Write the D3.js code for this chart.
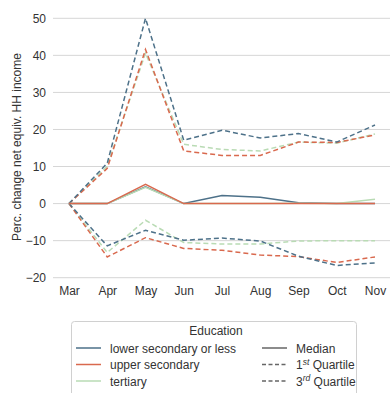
<!DOCTYPE html>
<html>
<head>
<meta charset="utf-8">
<script src="https://cdn.jsdelivr.net/npm/d3@7"></script>
<style>
  html, body { margin: 0; padding: 0; background: #fff; }
  svg { display: block; font-family: "Liberation Sans", Arial, sans-serif; }
</style>
</head>
<body>
<svg id="chart" width="390" height="393"></svg>
<script>
// Months on the x axis
const months = ["Mar", "Apr", "May", "Jun", "Jul", "Aug", "Sep", "Oct", "Nov"];
const yTicks = [-20, -10, 0, 10, 20, 30, 40, 50];

// Education groups
const groups = ["lower secondary or less", "upper secondary", "tertiary"];
const groupColors = ["#4d7189", "#d9694e", "#b9dbb4"];

// Percentage change of net equivalised household income, per group
const medianLower = [0, 0, 4.5, 0, 2.2, 1.7, 0.2, 0, 0];
const medianUpper = [0, 0, 5.2, 0, 0, 0, 0, 0, 0];
const medianTertiary = [0, 0, 4.4, 0, 0, 0, 0.1, 0, 1.2];

const q1Lower = [0, -11.4, -7.2, -9.9, -9.3, -10.1, -14.2, -16.7, -16.0];
const q1Upper = [0, -14.4, -9.2, -12.1, -12.6, -13.9, -14.3, -15.9, -14.4];
const q1Tertiary = [0, -13.2, -4.5, -10.5, -10.9, -10.9, -10.1, -10.0, -10.0];

const q3Lower = [0, 10.9, 50.0, 17.1, 19.8, 17.7, 18.9, 16.6, 21.2];
const q3Upper = [0, 9.5, 41.6, 14.2, 13.0, 13.0, 16.6, 16.5, 18.5];
const q3Tertiary = [0, 10.1, 40.6, 16.0, 14.6, 14.2, 16.6, 16.3, 18.8];

// Drawing order: lighter series underneath
const series = [
  { group: 2, stat: "q3", values: q3Tertiary },
  { group: 1, stat: "q3", values: q3Upper },
  { group: 0, stat: "q3", values: q3Lower },
  { group: 2, stat: "q1", values: q1Tertiary },
  { group: 1, stat: "q1", values: q1Upper },
  { group: 0, stat: "q1", values: q1Lower },
  { group: 0, stat: "median", values: medianLower },
  { group: 2, stat: "median", values: medianTertiary },
  { group: 1, stat: "median", values: medianUpper }
];

const svg = d3.select("#chart");
const textColor = "#333";
const fontSize = "12px";

const x = d3.scalePoint().domain(months).range([69, 375]);
const y = d3.scaleLinear().domain([-20, 50]).range([277.7, 18.3]);

// horizontal grid
svg.append("g")
  .selectAll("line")
  .data(yTicks)
  .join("line")
  .attr("x1", 53).attr("x2", 390)
  .attr("y1", d => y(d)).attr("y2", d => y(d))
  .attr("stroke", "#d6d6d6").attr("stroke-width", 1);

// y axis tick labels
const yAxis = svg.append("g")
  .attr("transform", "translate(53,0)")
  .call(d3.axisLeft(y).tickValues(yTicks).tickSize(0).tickPadding(7)
    .tickFormat(d => d < 0 ? "\u2212" + Math.abs(d) : d));
yAxis.select(".domain").remove();
yAxis.selectAll("text").attr("fill", textColor).style("font-size", fontSize)
  .style("font-family", "'Liberation Sans', Arial, sans-serif");

// x axis tick labels
const xAxis = svg.append("g")
  .attr("transform", "translate(0,281)")
  .call(d3.axisBottom(x).tickSize(0).tickPadding(5));
xAxis.select(".domain").remove();
xAxis.selectAll("text").attr("fill", textColor).style("font-size", fontSize)
  .style("font-family", "'Liberation Sans', Arial, sans-serif");

// y axis title
svg.append("text")
  .attr("transform", "translate(20.5,147) rotate(-90)")
  .attr("text-anchor", "middle")
  .attr("fill", textColor)
  .style("font-size", fontSize)
  .text("Perc. change net equiv. HH income");

// lines
const line = d3.line()
  .x((d, i) => x(months[i]))
  .y(d => y(d));

svg.append("g")
  .selectAll("path")
  .data(series)
  .join("path")
  .attr("d", d => line(d.values))
  .attr("fill", "none")
  .attr("stroke", d => groupColors[d.group])
  .attr("stroke-width", 1.5)
  .attr("stroke-dasharray", d => d.stat === "median" ? null : "5,3");

// legend
const lg = svg.append("g");
lg.append("rect")
  .attr("x", 71.5).attr("y", 321.5)
  .attr("width", 285).attr("height", 80)
  .attr("rx", 3)
  .attr("fill", "#fff").attr("stroke", "#d0d0d0");

lg.append("text")
  .attr("x", 216).attr("y", 334.5)
  .attr("text-anchor", "middle")
  .attr("fill", textColor)
  .style("font-size", fontSize)
  .text("Education");

const rowY = [348, 364.5, 381];
groups.forEach((g, i) => {
  lg.append("line")
    .attr("x1", 76).attr("x2", 101)
    .attr("y1", rowY[i]).attr("y2", rowY[i])
    .attr("stroke", groupColors[i]).attr("stroke-width", 1.5);
  lg.append("text")
    .attr("x", 110).attr("y", rowY[i] + 4.5)
    .attr("fill", textColor)
    .style("font-size", fontSize)
    .text(g);
});

const statItems = [
  { base: "Median", sup: null, rest: "", dash: null },
  { base: "1", sup: "st", rest: " Quartile", dash: "4,2.5" },
  { base: "3", sup: "rd", rest: " Quartile", dash: "4,2.5" }
];
statItems.forEach((s, i) => {
  lg.append("line")
    .attr("x1", 262).attr("x2", 287)
    .attr("y1", rowY[i]).attr("y2", rowY[i])
    .attr("stroke", "#666").attr("stroke-width", 1.5)
    .attr("stroke-dasharray", s.dash);
  const t = lg.append("text")
    .attr("x", 296).attr("y", rowY[i] + 4.5)
    .attr("fill", textColor)
    .style("font-size", fontSize);
  t.append("tspan").text(s.base);
  if (s.sup) {
    t.append("tspan").attr("dy", -4.5).style("font-size", "8.5px").style("font-style", "italic").text(s.sup);
    t.append("tspan").attr("dy", 4.5).text(s.rest);
  }
});
</script>
</body>
</html>
